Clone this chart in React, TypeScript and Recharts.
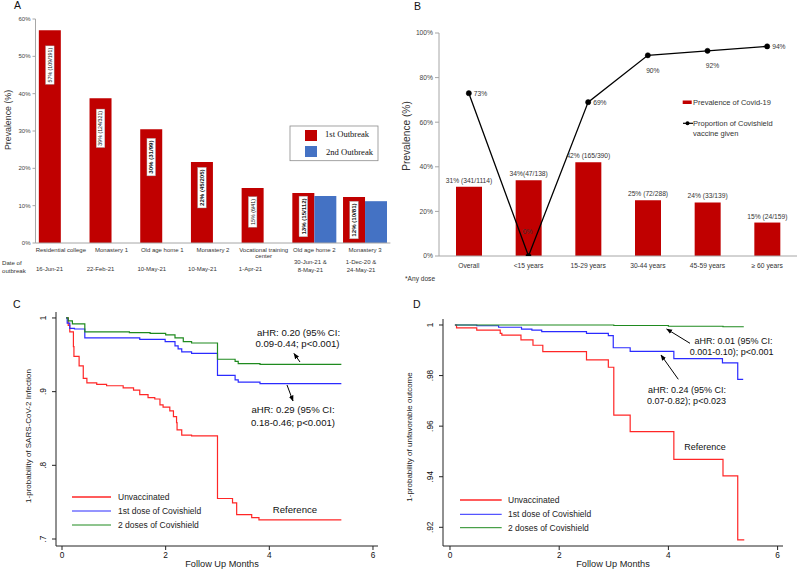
import React from 'react';
import { BarChart, Bar, XAxis, YAxis, LabelList, ComposedChart, Line, LineChart } from 'recharts';

const FONT = '"Liberation Sans", Arial, Helvetica, sans-serif';
const SERIF = '"Liberation Serif", "Times New Roman", serif';

// ---------- Panel A data ----------
const outbreakSites = ['Residential college', 'Monastery 1', 'Old age home 1', 'Monastery 2', 'Vocational training center', 'Old age home 2', 'Monastery 3'];
const outbreakDates = [['16-Jun-21'], ['22-Feb-21'], ['10-May-21'], ['10-May-21'], ['1-Apr-21'], ['30-Jun-21 &', '8-May-21'], ['1-Dec-20 &', '24-May-21']];
const firstOutbreakPrevalence = [57, 38.8, 30.5, 21.7, 14.7, 13.4, 12.3];
const secondOutbreakPrevalence: (number | null)[] = [null, null, null, null, null, 12.6, 11.2];
const firstOutbreakLabels = ['57% (109/191)', '39% (124/321)', '30% (31/99)', '22% (45/205)', '15% (6/41)', '13% (15/112)', '12% (10/81)'];
const secondOutbreakLabels: (string | null)[] = [null, null, null, null, null, '13% (14/111)', '11% (9/81)'];
const prevalenceTicksA = [0, 10, 20, 30, 40, 50, 60];

// ---------- Panel B data ----------
const ageGroups = ['Overall', '<15 years', '15-29 years', '30-44 years', '45-59 years', '\u2265 60 years'];
const covidPrevalence = [31, 34, 42, 25, 24, 15];
const covidPrevalenceLabels = ['31% (341/1114)', '34%(47/138)', '42% (165/390)', '25% (72/288)', '24% (33/139)', '15% (24/159)'];
const covishieldProportion = [73, 0, 69, 90, 92, 94];
const prevalenceTicksB = [0, 10, 20, 30, 40, 50, 60, 70, 80, 90, 100];

// ---------- Panel C data (months, 1-probability of infection) ----------
const infectionUnvaccinated: [number, number][] = [
  [0.08, 1], [0.12, 0.99], [0.15, 0.981], [0.22, 0.961], [0.23, 0.948], [0.33, 0.935], [0.41, 0.918], [0.48, 0.912],
  [0.67, 0.91], [0.86, 0.908], [1.18, 0.905], [1.38, 0.902], [1.5, 0.896], [1.66, 0.892], [1.79, 0.89], [1.89, 0.882],
  [1.95, 0.879], [2.08, 0.874], [2.15, 0.866], [2.21, 0.858], [2.22, 0.848], [2.31, 0.841], [2.5, 0.84], [3.0, 0.755],
  [3.29, 0.749], [3.37, 0.733], [3.66, 0.729], [3.8, 0.726], [5.39, 0.726],
];
const infectionFirstDose: [number, number][] = [
  [0.08, 1], [0.1, 0.993], [0.15, 0.986], [0.24, 0.985], [0.44, 0.973], [1.5, 0.971], [1.99, 0.968], [2.18, 0.962],
  [2.24, 0.958], [2.31, 0.954], [2.5, 0.952], [3.0, 0.922], [3.34, 0.916], [3.4, 0.913], [3.82, 0.911], [5.39, 0.911],
];
const infectionTwoDoses: [number, number][] = [
  [0.08, 1], [0.12, 0.996], [0.2, 0.992], [0.44, 0.981], [1.3, 0.98], [1.7, 0.979], [2.0, 0.977], [2.18, 0.973],
  [2.34, 0.968], [2.5, 0.966], [3.0, 0.944], [3.34, 0.941], [3.4, 0.938], [3.82, 0.937], [5.39, 0.937],
];
const infectionTicks = [0.7, 0.8, 0.9, 1];
const monthTicks = [0, 2, 4, 6];

// ---------- Panel D data (months, 1-probability of unfavourable outcome) ----------
const outcomeUnvaccinated: [number, number][] = [
  [0.09, 1], [0.12, 0.9989], [0.49, 0.998], [0.92, 0.9967], [0.95, 0.996], [1.3, 0.9941], [1.52, 0.992], [1.7, 0.9895],
  [2.5, 0.9862], [2.9, 0.9833], [3.0, 0.9644], [3.3, 0.9578], [4.1, 0.9469], [5.0, 0.9403], [5.27, 0.915], [5.39, 0.915],
];
const outcomeFirstDose: [number, number][] = [
  [0.09, 1], [0.49, 0.9997], [0.89, 0.9991], [1.31, 0.9984], [1.5, 0.998], [1.68, 0.9974], [2.5, 0.9967], [2.9, 0.9958],
  [2.99, 0.991], [3.3, 0.9896], [4.1, 0.9867], [4.99, 0.985], [5.27, 0.9785], [5.37, 0.9785],
];
const outcomeTwoDoses: [number, number][] = [
  [0.09, 1], [3.0, 0.9998], [4.0, 0.9995], [5.0, 0.9993], [5.37, 0.9991],
];
const outcomeTicks = [0.92, 0.94, 0.96, 0.98, 1];

// ---------- styles ----------
const RED_BAR = '#C00000';
const BLUE_BAR = '#4472C4';
const KM_RED = '#ff2626';
const KM_BLUE = '#2b2bff';
const KM_GREEN = '#1f8a1f';
const boldFirstLabelIdx = new Set([2, 3, 5, 6]);
const lineLabelPlacement = ['right', 'above', 'right', 'below', 'below', 'right'];
const BAND_A = (390.4 - 35.5) / 7;

const toPoints = (arr: [number, number][]) => arr.map(([t, v]) => ({ t, v }));

const tableA = outbreakSites.map((site, i) => ({
  site,
  first: firstOutbreakPrevalence[i],
  second: secondOutbreakPrevalence[i],
  firstLabel: firstOutbreakLabels[i],
  secondLabel: secondOutbreakLabels[i],
}));

const tableB = ageGroups.map((group, i) => ({
  group,
  prev: covidPrevalence[i],
  prevLabel: covidPrevalenceLabels[i],
  vacc: covishieldProportion[i],
}));

function wrapWords(s: string, max: number): string[] {
  const words = s.split(' ');
  const lines: string[] = [];
  let cur = '';
  for (const w of words) {
    const next = cur ? cur + ' ' + w : w;
    if (next.length > max && cur) {
      lines.push(cur);
      cur = w;
    } else cur = next;
  }
  if (cur) lines.push(cur);
  return lines;
}

function rect(props: any) {
  const vb = props.viewBox && props.viewBox.width !== undefined ? props.viewBox : props;
  return { x: vb.x, y: vb.y, width: vb.width, height: vb.height };
}

function makeBarLabel(labels: (string | null)[], boldIdx: Set<number>) {
  return (props: any) => {
    const { x, y, width, height } = rect(props);
    let index = props.index;
    if (index === undefined) index = labels.indexOf(props.value);
    const text = labels[index];
    if (!text || !height || height <= 0) return null;
    const bold = boldIdx.has(index);
    const fs = bold ? 6.1 : 5.3;
    const cx = x + width / 2;
    const off = Math.min(height / 2, 20 + 0.07 * height);
    const cy = y + off;
    const len = text.length * fs * 0.5 + 4;
    return (
      <g transform={`translate(${cx},${cy}) rotate(-90)`}>
        <rect x={-len / 2} y={-4.3} width={len} height={8.6} fill="#fff" stroke="#9a9a9a" strokeWidth={0.4} />
        <text x={0} y={fs * 0.36} textAnchor="middle" fontSize={fs} fontWeight={bold ? 'bold' : 'normal'} fill="#111" fontFamily={FONT}>
          {text}
        </text>
      </g>
    );
  };
}

const BarTopLabelB = (props: any) => {
  const { x, y, width } = rect(props);
  let index = props.index;
  if (index === undefined) index = covidPrevalenceLabels.indexOf(props.value);
  const text = covidPrevalenceLabels[index];
  if (!text) return null;
  return (
    <text x={x + width / 2} y={y - 4} textAnchor="middle" fontSize={6.7} fill="#333" fontFamily={FONT}>{text}</text>
  );
};

const SiteTick = (props: any) => {
  const { x, y, payload } = props;
  const name = payload.value as string;
  const i = outbreakSites.indexOf(name);
  const lines = wrapWords(name, 20);
  const dates = outbreakDates[i] || [];
  const bandLeft = x - BAND_A / 2;
  return (
    <g fontFamily={FONT} fontSize={6} fill="#333">
      {lines.map((l, k) => (
        <text key={k} x={x} y={y + 8.5 + k * 6.8} textAnchor="middle">{l}</text>
      ))}
      {dates.length === 1 ? (
        <text x={bandLeft + 0.5} y={y + 28} textAnchor="start">{dates[0]}</text>
      ) : (
        dates.map((d, k) => (
          <text key={k} x={x - 4} y={y + 20.5 + k * 8} textAnchor="middle">{d}</text>
        ))
      )}
    </g>
  );
};

const PercentTickA = (props: any) => {
  const { x, y, payload } = props;
  return (
    <text x={x} y={y + 2} textAnchor="end" fontSize={6} fill="#444" fontFamily={FONT}>{payload.value}%</text>
  );
};

const PercentTickB = (props: any) => {
  const { x, y, payload } = props;
  return (
    <text x={x} y={y + 2.4} textAnchor="end" fontSize={6.7} fill="#444" fontFamily={FONT}>{payload.value}%</text>
  );
};

const GroupTick = (props: any) => {
  const { x, y, payload } = props;
  return (
    <text x={x} y={y + 11.5} textAnchor="middle" fontSize={6.7} fill="#333" fontFamily={FONT}>{payload.value}</text>
  );
};

const LineLabelB = (props: any) => {
  const vb = props.viewBox || {};
  const x = props.x ?? vb.x;
  const y = props.y ?? vb.y;
  let index = props.index;
  const value = props.value;
  if (index === undefined) index = covishieldProportion.indexOf(value);
  const pos = lineLabelPlacement[index] || 'right';
  let dx = 5, dy = 2.5, anchor: any = 'start';
  if (pos === 'above') { dx = -1; dy = -22.5; anchor = 'middle'; }
  if (pos === 'below') { dx = 5; dy = 17.5; anchor = 'middle'; }
  return (
    <text x={x + dx} y={y + dy} textAnchor={anchor} fontSize={6.7} fill="#333" fontFamily={FONT}>{value}%</text>
  );
};

const StataYTick = (props: any) => {
  const { x, y, payload } = props;
  const v = payload.value as number;
  const label = v === 1 ? '1' : String(v).replace(/^0/, '');
  return (
    <text transform={`translate(${x},${y}) rotate(-90)`} textAnchor="middle" fontSize={8.3} fill="#111" fontFamily={FONT}>{label}</text>
  );
};

const StataXTick = (props: any) => {
  const { x, y, payload } = props;
  return (
    <text x={x} y={y + 6} textAnchor="middle" fontSize={8.3} fill="#111" fontFamily={FONT}>{payload.value}</text>
  );
};

const VText = ({ cx, cy, fs, children, fill = '#222', family = FONT }: any) => (
  <text transform={`translate(${cx + fs * 0.35},${cy}) rotate(-90)`} textAnchor="middle" fontSize={fs} fill={fill} fontFamily={family}>
    {children}
  </text>
);

const Overlay = () => (
  <svg width={797} height={569} style={{ position: 'absolute', left: 0, top: 0, pointerEvents: 'none' }}>
    <defs>
      <marker id="ah" viewBox="0 0 10 10" refX="9" refY="5" markerWidth="6" markerHeight="6" orient="auto">
        <path d="M0,1 L10,5 L0,9 z" fill="#000" />
      </marker>
    </defs>
    {/* panel letters */}
    <g fontFamily={FONT} fontSize={10.5} fill="#111">
      <text x={14} y={9}>A</text>
      <text x={414} y={10}>B</text>
      <text x={13} y={308}>C</text>
      <text x={413} y={308}>D</text>
    </g>

    {/* Panel A extras */}
    <VText cx={8} cy={120} fs={8.8} fill="#333">Prevalence (%)</VText>
    <g fontFamily={FONT} fontSize={6.1} fill="#333">
      <text x={2} y={265}>Date of</text>
      <text x={2} y={273}>outbreak</text>
    </g>
    <rect x={290} y={126} width={88} height={34.7} fill="#fff" stroke="#8c8c8c" strokeWidth={0.8} />
    <rect x={305} y={130} width={12} height={11} fill={RED_BAR} />
    <rect x={305} y={146} width={12} height={11} fill={BLUE_BAR} />
    <g fontFamily={SERIF} fontSize={8.6} fill="#111">
      <text x={325} y={136.5}>1st Outbreak</text>
      <text x={326} y={154.8}>2nd Outbreak</text>
    </g>

    {/* Panel B extras */}
    <VText cx={406} cy={136} fs={10.2} fill="#333">Prevalence (%)</VText>
    <rect x={682.7} y={100.5} width={9} height={3.5} fill={RED_BAR} />
    <line x1={683} y1={123.3} x2={693} y2={123.3} stroke="#000" strokeWidth={1.2} />
    <circle cx={687.5} cy={123.3} r={2} fill="#000" />
    <g fontFamily={FONT} fontSize={7.5} fill="#333">
      <text x={693} y={104.8}>Prevalence of Covid-19</text>
      <text x={693} y={125.8}>Proportion of Covishield</text>
      <text x={693} y={135.5}>vaccine given</text>
    </g>
    <text x={405} y={280.5} fontFamily={FONT} fontSize={6.6} fill="#333">*Any dose</text>

    {/* Panel C extras */}
    <VText cx={28} cy={436} fs={8} fill="#222">1-probability of SARS-CoV-2 Infection</VText>
    <text x={222} y={567} textAnchor="middle" fontFamily={FONT} fontSize={9.2} fill="#222">Follow Up Months</text>
    <line x1={72} y1={497} x2={111} y2={497} stroke={KM_RED} strokeWidth={1.4} />
    <line x1={72} y1={511} x2={111} y2={511} stroke={KM_BLUE} strokeWidth={1} />
    <line x1={72} y1={525} x2={111} y2={525} stroke={KM_GREEN} strokeWidth={1} />
    <g fontFamily={FONT} fontSize={8.5} fill="#222">
      <text x={118} y={500}>Unvaccinated</text>
      <text x={118} y={514}>1st dose of Covishield</text>
      <text x={118} y={528}>2 doses of Covishield</text>
    </g>
    <g fontFamily={FONT} fontSize={9.6} fill="#111" textAnchor="middle">
      <text x={298.5} y={335.5}>aHR: 0.20 (95% CI:</text>
      <text x={297.5} y={346.5}>0.09-0.44; p&lt;0.001)</text>
      <text x={293} y={412.5}>aHR: 0.29 (95% CI:</text>
      <text x={293} y={425.5}>0.18-0.46; p&lt;0.001)</text>
      <text x={295} y={512.5}>Reference</text>
    </g>
    <line x1={300} y1={362} x2={294} y2={353.5} stroke="#000" strokeWidth={1} markerEnd="url(#ah)" />
    <line x1={287} y1={385} x2={293} y2={401} stroke="#000" strokeWidth={1} markerEnd="url(#ah)" />

    {/* Panel D extras */}
    <VText cx={409} cy={437} fs={8} fill="#222">1-probability of unfavorable outcome</VText>
    <text x={613} y={567} textAnchor="middle" fontFamily={FONT} fontSize={9.2} fill="#222">Follow Up Months</text>
    <line x1={460} y1={500} x2={501.7} y2={500} stroke={KM_RED} strokeWidth={1.4} />
    <line x1={460} y1={514.3} x2={501.7} y2={514.3} stroke={KM_BLUE} strokeWidth={1} />
    <line x1={460} y1={527.7} x2={501.7} y2={527.7} stroke={KM_GREEN} strokeWidth={1} />
    <g fontFamily={FONT} fontSize={8.5} fill="#222">
      <text x={508} y={503}>Unvaccinated</text>
      <text x={508} y={517.3}>1st dose of Covishield</text>
      <text x={508} y={530.7}>2 doses of Covishield</text>
    </g>
    <g fontFamily={FONT} fontSize={9} fill="#111" textAnchor="middle">
      <text x={733.5} y={344}>aHR: 0.01 (95% CI:</text>
      <text x={731.7} y={354.7}>0.001-0.10); p&lt;0.001</text>
      <text x={687} y={393}>aHR: 0.24 (95% CI:</text>
      <text x={686.5} y={403.7}>0.07-0.82); p&lt;0.023</text>
      <text x={705} y={449.7}>Reference</text>
    </g>
    <line x1={690} y1={343.3} x2={666.7} y2={329} stroke="#000" strokeWidth={1} markerEnd="url(#ah)" />
    <line x1={678.3} y1={379.3} x2={661} y2={355} stroke="#000" strokeWidth={1} markerEnd="url(#ah)" />
  </svg>
);

export default function App() {
  return (
    <div style={{ position: 'absolute', left: 0, top: 0, width: 797, height: 569, background: '#fff', overflow: 'hidden' }}>
      {/* Panel A */}
      <div style={{ position: 'absolute', left: 0, top: 0 }}>
        <BarChart width={400} height={285} data={tableA} margin={{ top: 19, right: 9.6, bottom: 0, left: 0 }} barCategoryGap={3.33} barGap={0}>
          <YAxis width={35.5} type="number" domain={[0, 60]} ticks={prevalenceTicksA} tickSize={3} tickMargin={2}
            tick={<PercentTickA />} axisLine={{ stroke: '#a6a6a6' }} tickLine={{ stroke: '#a6a6a6' }} allowDataOverflow />
          <XAxis dataKey="site" height={42} interval={0} tickLine={false} tickSize={0} tickMargin={0}
            axisLine={{ stroke: '#a6a6a6' }} tick={<SiteTick />} />
          <Bar dataKey="first" fill={RED_BAR} isAnimationActive={false}>
            <LabelList dataKey="firstLabel" content={makeBarLabel(firstOutbreakLabels, boldFirstLabelIdx)} />
          </Bar>
          <Bar dataKey="second" fill={BLUE_BAR} isAnimationActive={false}>
            <LabelList dataKey="secondLabel" content={makeBarLabel(secondOutbreakLabels, new Set())} />
          </Bar>
        </BarChart>
      </div>

      {/* Panel B */}
      <div style={{ position: 'absolute', left: 400, top: 0 }}>
        <ComposedChart width={397} height={285} data={tableB} margin={{ top: 33, right: 0, bottom: 0, left: 0 }}>
          <YAxis width={39} type="number" domain={[0, 100]} ticks={prevalenceTicksB} tickSize={4} tickMargin={2}
            tick={<PercentTickB />} axisLine={{ stroke: '#a6a6a6' }} tickLine={{ stroke: '#a6a6a6' }} allowDataOverflow />
          <XAxis dataKey="group" height={29} interval={0} tickLine={false} tickSize={0} tickMargin={0}
            axisLine={{ stroke: '#a6a6a6' }} tick={<GroupTick />} />
          <Bar dataKey="prev" fill={RED_BAR} barSize={26} isAnimationActive={false}>
            <LabelList dataKey="prevLabel" content={<BarTopLabelB />} />
          </Bar>
          <Line dataKey="vacc" type="linear" stroke="#000" strokeWidth={1.3} isAnimationActive={false}
            dot={{ r: 2.6, fill: '#000', stroke: '#000', strokeWidth: 0.5 }} activeDot={false}>
            <LabelList dataKey="vacc" content={<LineLabelB />} />
          </Line>
        </ComposedChart>
      </div>

      {/* Panel C */}
      <div style={{ position: 'absolute', left: 0, top: 285 }}>
        <LineChart width={400} height={284} margin={{ top: 27, right: 22, bottom: 0, left: 0 }}>
          <XAxis type="number" dataKey="t" domain={[-0.116, 6.097]} ticks={monthTicks} allowDataOverflow height={23}
            tickSize={4} tickMargin={2} tick={<StataXTick />} axisLine={{ stroke: '#222' }} tickLine={{ stroke: '#222' }} />
          <YAxis type="number" dataKey="v" domain={[0.6905, 1.0081]} ticks={infectionTicks} allowDataOverflow width={56}
            tickSize={4} tickMargin={6} tick={<StataYTick />} axisLine={{ stroke: '#222' }} tickLine={{ stroke: '#222' }} />
          <Line data={toPoints(infectionUnvaccinated)} dataKey="v" type="stepAfter" stroke={KM_RED} strokeWidth={1.2} dot={false} isAnimationActive={false} />
          <Line data={toPoints(infectionFirstDose)} dataKey="v" type="stepAfter" stroke={KM_BLUE} strokeWidth={1.2} dot={false} isAnimationActive={false} />
          <Line data={toPoints(infectionTwoDoses)} dataKey="v" type="stepAfter" stroke={KM_GREEN} strokeWidth={1.2} dot={false} isAnimationActive={false} />
        </LineChart>
      </div>

      {/* Panel D */}
      <div style={{ position: 'absolute', left: 400, top: 285 }}>
        <LineChart width={397} height={284} margin={{ top: 34, right: 14, bottom: 0, left: 0 }}>
          <XAxis type="number" dataKey="t" domain={[-0.128, 6.099]} ticks={monthTicks} allowDataOverflow height={23}
            tickSize={4} tickMargin={2} tick={<StataXTick />} axisLine={{ stroke: '#222' }} tickLine={{ stroke: '#222' }} />
          <YAxis type="number" dataKey="v" domain={[0.91261, 1.00237]} ticks={outcomeTicks} allowDataOverflow width={43}
            tickSize={4} tickMargin={6} tick={<StataYTick />} axisLine={{ stroke: '#222' }} tickLine={{ stroke: '#222' }} />
          <Line data={toPoints(outcomeUnvaccinated)} dataKey="v" type="stepAfter" stroke={KM_RED} strokeWidth={1.2} dot={false} isAnimationActive={false} />
          <Line data={toPoints(outcomeFirstDose)} dataKey="v" type="stepAfter" stroke={KM_BLUE} strokeWidth={1.2} dot={false} isAnimationActive={false} />
          <Line data={toPoints(outcomeTwoDoses)} dataKey="v" type="stepAfter" stroke={KM_GREEN} strokeWidth={1.2} dot={false} isAnimationActive={false} />
        </LineChart>
      </div>

      <Overlay />
    </div>
  );
}
